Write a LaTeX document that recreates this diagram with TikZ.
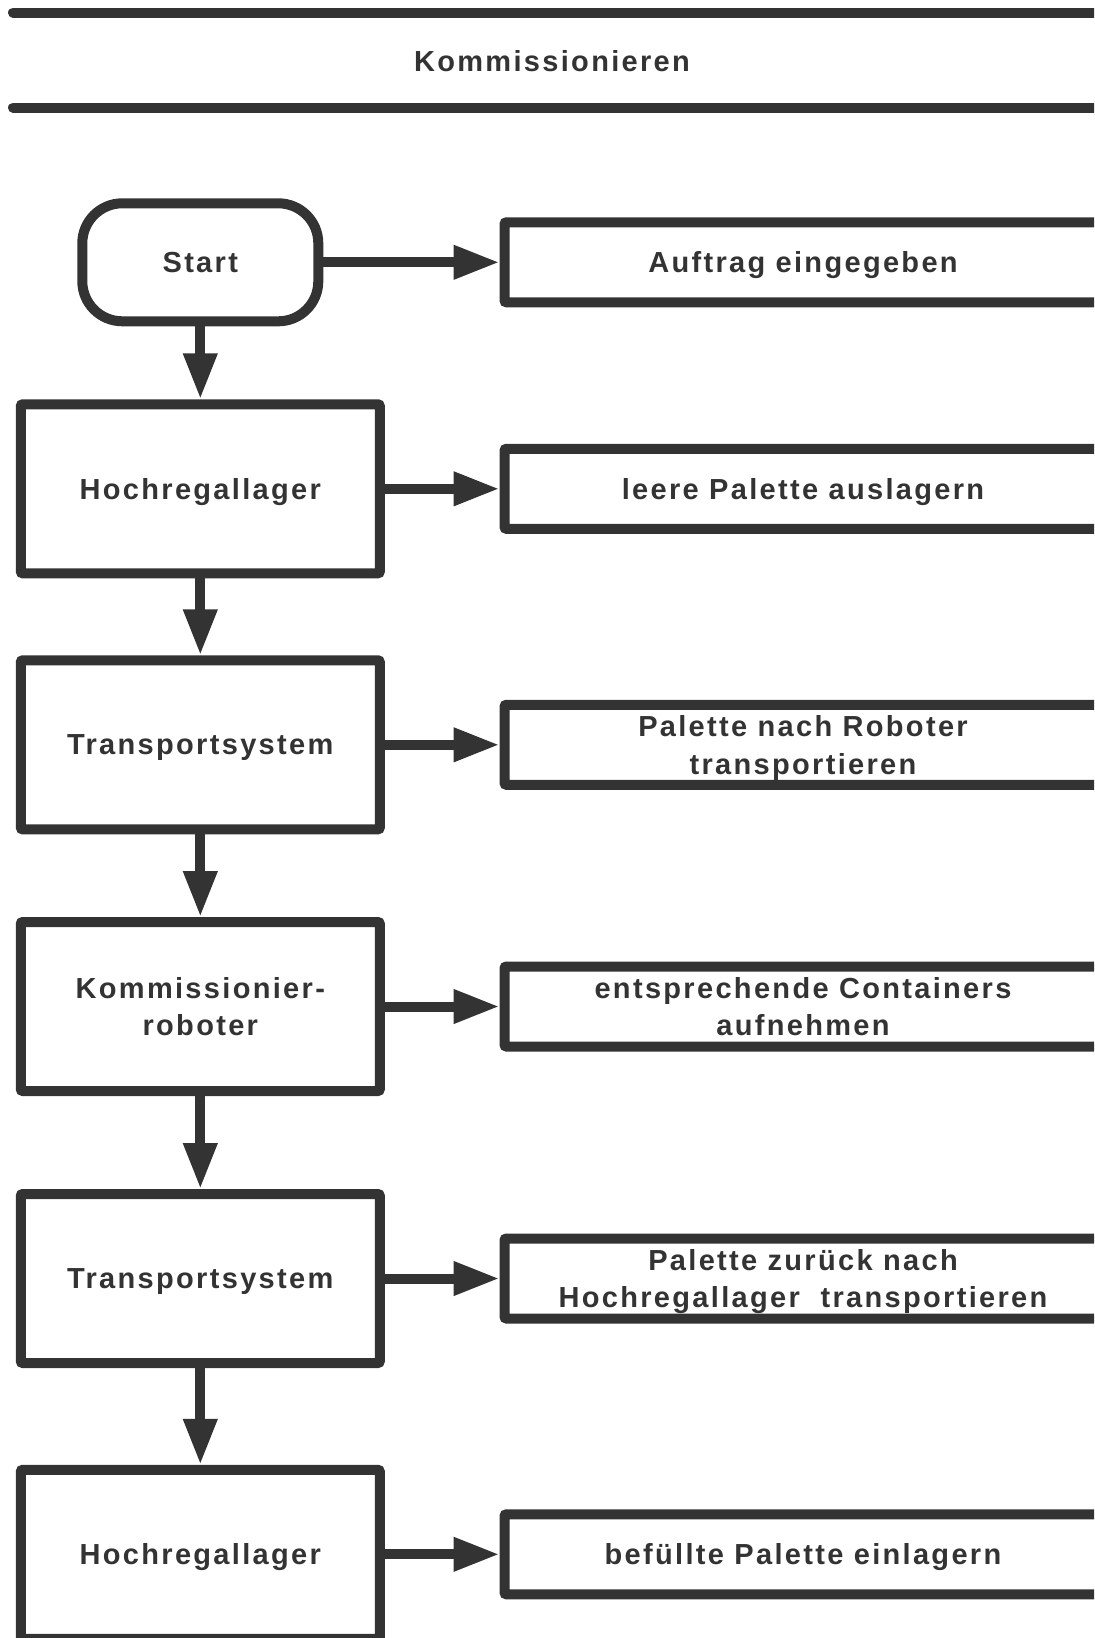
\documentclass[tikz,border=0pt]{standalone}
\usepackage{fontspec}
\setmainfont{Liberation Sans}[LetterSpace=8]
\usetikzlibrary{arrows.meta}
\definecolor{ink}{HTML}{333333}
\begin{document}
\begin{tikzpicture}[x=0.5pt,y=-0.5pt,
  every node/.style={font=\fontsize{14.5pt}{18.8pt}\selectfont\bfseries, text=ink, align=center, text depth=0pt},
  stroke/.style={draw=ink, line width=5pt},
  startbox/.style={stroke, rounded corners=20pt, minimum width=118pt, minimum height=59pt, inner sep=0pt},
  unitbox/.style={stroke, rounded corners=1pt, minimum width=179.5pt, minimum height=84.5pt, inner sep=0pt},
  taskbox/.style={stroke, rounded corners=1pt, minimum width=298.5pt, minimum height=40pt, inner sep=0pt},
  flow/.style={draw=ink, line width=5pt, -{Triangle[length=23pt,width=16pt]}},
  rule/.style={draw=ink, line width=5pt, line cap=round}]

\path[use as bounding box] (0,0) rectangle (1094,1638);
\clip (0,0) rectangle (1094,1638);

% header rules and title
\coordinate (ruleTopL) at (13,12.5);
\coordinate (ruleTopR) at (1110,12.5);
\coordinate (ruleBotL) at (13,107.6);
\coordinate (ruleBotR) at (1110,107.6);
\draw[rule] (ruleTopL) -- (ruleTopR);
\draw[rule] (ruleBotL) -- (ruleBotR);
\node (title) at (552,60.6) {Kommissionieren};

% left column: stations
\node[startbox] (start) at (200.3,262.3) {Start};
\node[unitbox] (s1) at (200.3,488.8) {Hochregallager};
\node[unitbox] (s2) at (200.3,744.8) {Transportsystem};
\node[unitbox] (s3) at (200.3,1006.5) {Kommissionier-\\roboter};
\node[unitbox] (s4) at (200.3,1278.5) {Transportsystem};
\node[unitbox] (s5) at (200.3,1554.3) {Hochregallager};

% right column: actions (running off the right edge)
\node[taskbox] (a0) at (803,262.3) {Auftrag eingegeben};
\node[taskbox] (a1) at (803,488.8) {leere Palette auslagern};
\node[taskbox] (a2) at (803,744.8) {Palette nach Roboter\\transportieren};
\node[taskbox] (a3) at (803,1006.5) {entsprechende Containers\\aufnehmen};
\node[taskbox] (a4) at (803,1278.5) {Palette zurück nach\\Hochregallager\ \ transportieren};
\node[taskbox] (a5) at (803,1554.3) {befüllte Palette einlagern};

% vertical flow
\draw[flow] (start.south) -- (s1.north);
\draw[flow] (s1.south) -- (s2.north);
\draw[flow] (s2.south) -- (s3.north);
\draw[flow] (s3.south) -- (s4.north);
\draw[flow] (s4.south) -- (s5.north);

% station to action
\draw[flow] (start.east) -- (a0.west);
\draw[flow] (s1.east) -- (a1.west);
\draw[flow] (s2.east) -- (a2.west);
\draw[flow] (s3.east) -- (a3.west);
\draw[flow] (s4.east) -- (a4.west);
\draw[flow] (s5.east) -- (a5.west);
\end{tikzpicture}
\end{document}
